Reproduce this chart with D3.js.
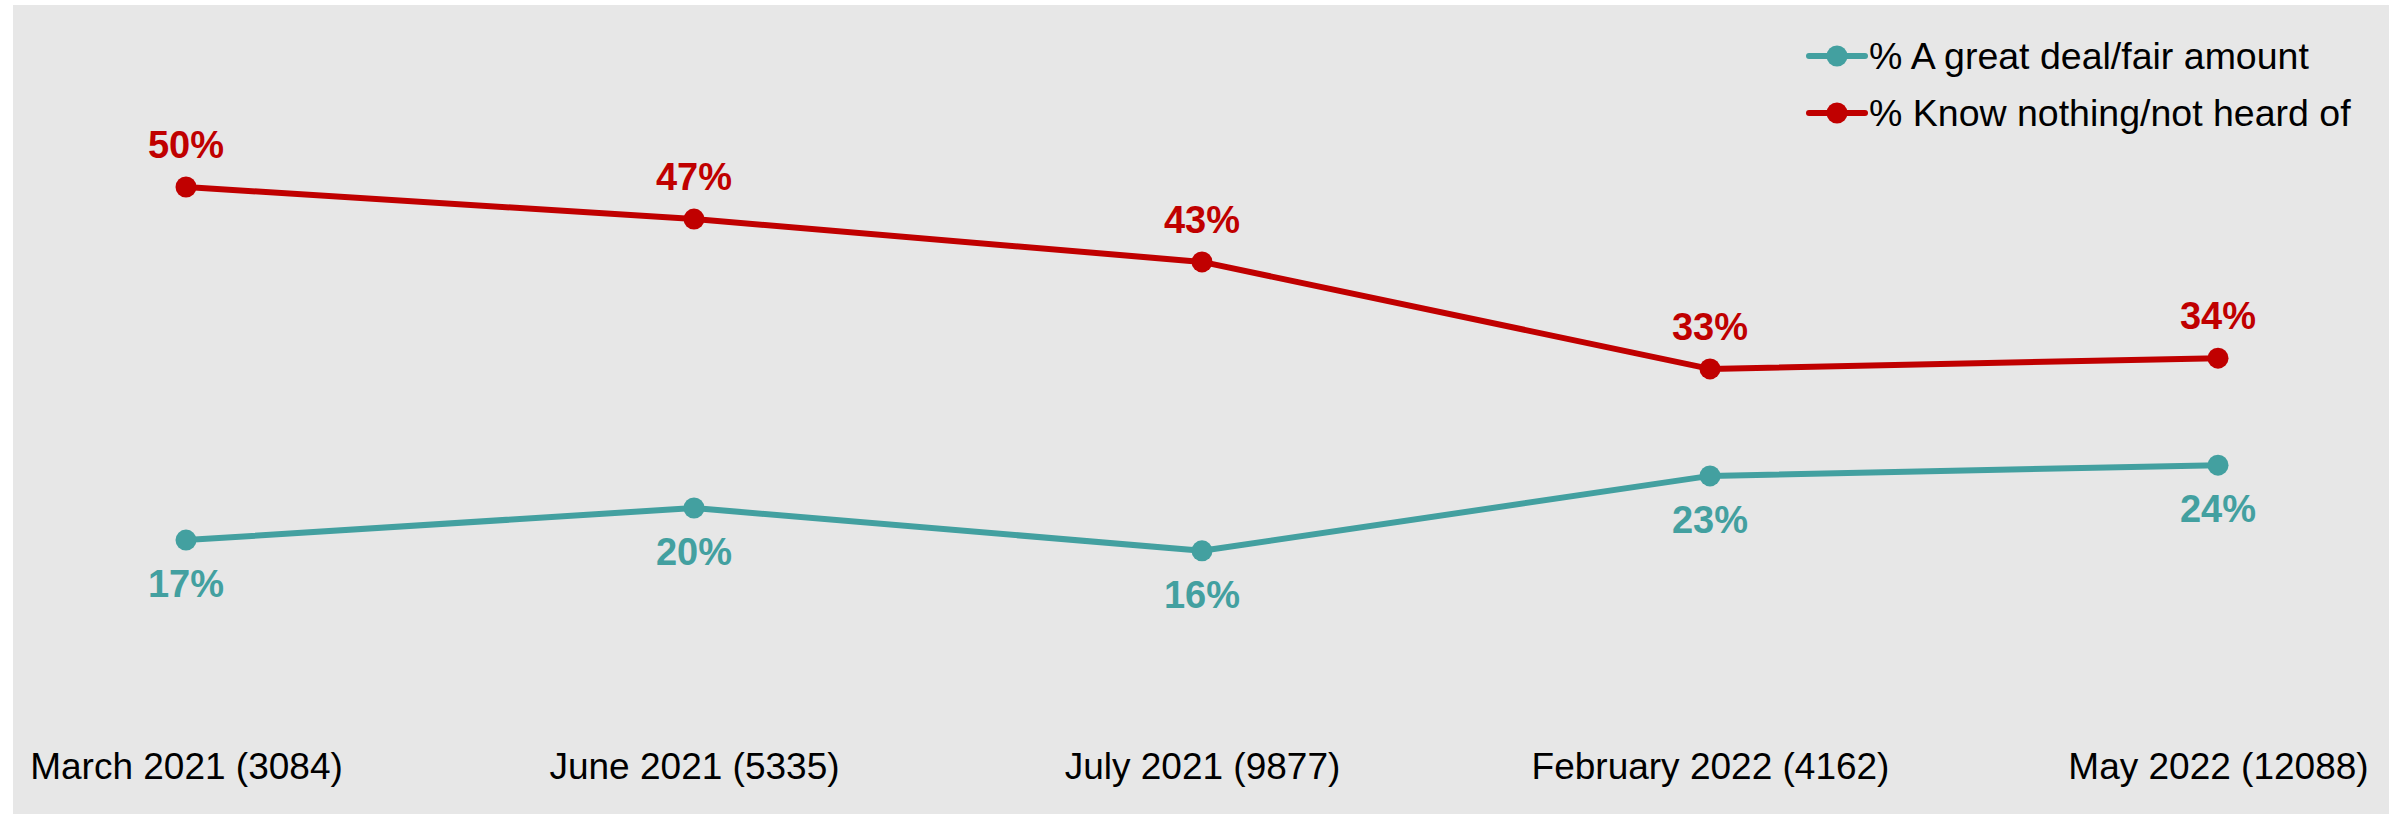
<!DOCTYPE html>
<html>
<head>
<meta charset="utf-8">
<script src="https://cdn.jsdelivr.net/npm/d3@7"></script>
<style>
  html, body { margin: 0; padding: 0; background: #ffffff; }
  svg { display: block; font-family: "Liberation Sans", Arial, sans-serif; }
</style>
</head>
<body>
<svg id="chart" width="2403" height="814"></svg>
<script>
// Survey waves (sample size in brackets)
const waves = ["March 2021 (3084)", "June 2021 (5335)", "July 2021 (9877)", "February 2022 (4162)", "May 2022 (12088)"];
// Share of respondents, in percent
const greatDealFair = [17, 20, 16, 23, 24];
const knowNothing = [50, 47, 43, 33, 34];
const seriesNames = ["% A great deal/fair amount", "% Know nothing/not heard of"];
const seriesColors = ["#43a0a0", "#c00000"];

const svg = d3.select("#chart");

// panel background
svg.append("rect")
  .attr("x", 13).attr("y", 5)
  .attr("width", 2376).attr("height", 809)
  .attr("fill", "#e7e7e7");

const x = d3.scalePoint().domain(waves).range([186, 2218]);
const y = d3.scaleLinear().domain([0, 50]).range([722, 187]);

const series = [
  { name: seriesNames[0], values: greatDealFair, color: seriesColors[0], labelBelow: true },
  { name: seriesNames[1], values: knowNothing, color: seriesColors[1], labelBelow: false }
];

// category axis along the bottom, no domain line or ticks
const xAxis = d3.axisBottom(x).tickSize(0).tickPadding(0);
const gx = svg.append("g").attr("transform", "translate(0,750)").call(xAxis);
gx.select(".domain").remove();
gx.selectAll("text")
  .attr("dy", "0.77em")
  .attr("font-size", 37)
  .attr("font-family", "Liberation Sans, Arial, sans-serif")
  .attr("fill", "#000");

const line = d3.line()
  .x((d, i) => x(waves[i]))
  .y(d => y(d));

series.forEach(s => {
  const g = svg.append("g");
  g.append("path")
    .datum(s.values)
    .attr("d", line)
    .attr("fill", "none")
    .attr("stroke", s.color)
    .attr("stroke-width", 6)
    .attr("stroke-linejoin", "round");
  g.selectAll("circle")
    .data(s.values)
    .join("circle")
    .attr("cx", (d, i) => x(waves[i]))
    .attr("cy", d => y(d))
    .attr("r", 10.5)
    .attr("fill", s.color);
  g.selectAll("text")
    .data(s.values)
    .join("text")
    .attr("x", (d, i) => x(waves[i]))
    .attr("y", d => s.labelBelow ? y(d) + 57 : y(d) - 29)
    .attr("text-anchor", "middle")
    .attr("font-size", 38)
    .attr("font-weight", "bold")
    .attr("fill", s.color)
    .text(d => d + "%");
});

// legend
const legend = svg.append("g").attr("transform", "translate(1809,0)");
series.forEach((s, i) => {
  const cy = 56 + i * 57;
  legend.append("line")
    .attr("x1", 0).attr("x2", 56)
    .attr("y1", cy).attr("y2", cy)
    .attr("stroke", s.color).attr("stroke-width", 6)
    .attr("stroke-linecap", "round");
  legend.append("circle")
    .attr("cx", 28).attr("cy", cy).attr("r", 10.5)
    .attr("fill", s.color);
  legend.append("text")
    .attr("x", 60).attr("y", cy + 13)
    .attr("font-size", 37.5)
    .attr("fill", "#000")
    .text(s.name);
});
</script>
</body>
</html>
